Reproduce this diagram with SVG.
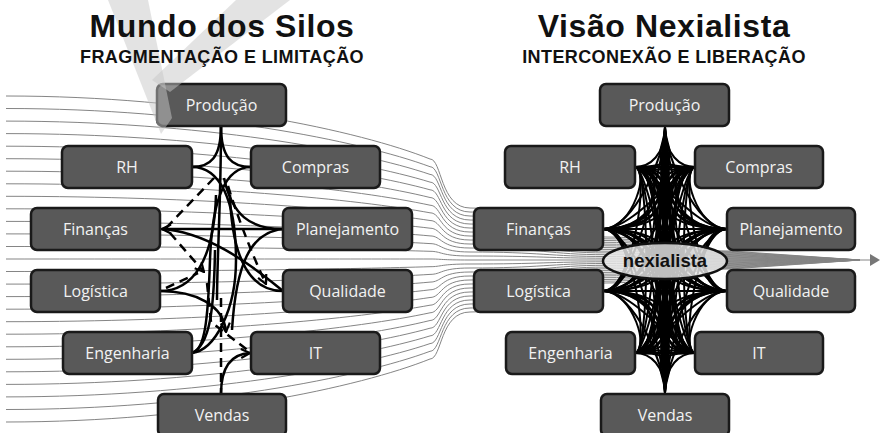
<svg xmlns="http://www.w3.org/2000/svg" width="881" height="433" viewBox="0 0 881 433">
<defs>
<style>
.bl path{fill:none;stroke:#858585;stroke-width:1}
.mesh path{fill:none;stroke:#000;stroke-width:2}
.lc path{fill:none;stroke:#000;stroke-width:2.5}
.lc path.d{stroke-dasharray:9 6}
.node rect{fill:#595959;stroke:#1a1a1a;stroke-width:2.5}
.node text{font-family:"Open Sans","Noto Sans",sans-serif;font-size:16px;fill:#f2f2f2;text-anchor:middle}
.title{font-family:"Liberation Sans",Arial,sans-serif;font-weight:bold;fill:#111;text-anchor:middle}
</style>
<marker id="ah" markerUnits="userSpaceOnUse" markerWidth="12" markerHeight="12" viewBox="0 0 12 12" refX="11" refY="6" orient="auto"><path d="M2,1.5 L11,6 L2,10.5" fill="none" stroke="#000" stroke-width="2.2"/></marker>
</defs>
<rect width="881" height="433" fill="#fff"/>
<g id="flow-lines" class="bl">
<path d="M6,96C200,96 360,131 430,159C442,159 440,208 470,208C540,208 550,237 605,237C670,237 680,251 730,251L860,260"/>
<path d="M6,108.5C200,108.5 360,140.8 430,166.7C442,166.7 440,212 470,212C540,212 550,238.8 605,238.8C670,238.8 680,251.7 730,251.7L860,260"/>
<path d="M6,121.1C200,121.1 360,150.7 430,174.4C442,174.4 440,216 470,216C540,216 550,240.5 605,240.5C670,240.5 680,252.4 730,252.4L860,260"/>
<path d="M6,133.6C200,133.6 360,160.5 430,182.1C442,182.1 440,220 470,220C540,220 550,242.3 605,242.3C670,242.3 680,253.1 730,253.1L860,260"/>
<path d="M6,146.2C200,146.2 360,170.4 430,189.8C442,189.8 440,224 470,224C540,224 550,244.1 605,244.1C670,244.1 680,253.8 730,253.8L860,260"/>
<path d="M6,158.7C200,158.7 360,180.2 430,197.5C442,197.5 440,228 470,228C540,228 550,245.8 605,245.8C670,245.8 680,254.5 730,254.5L860,260"/>
<path d="M6,171.2C200,171.2 360,190.1 430,205.2C442,205.2 440,232 470,232C540,232 550,247.6 605,247.6C670,247.6 680,255.2 730,255.2L860,260"/>
<path d="M6,183.8C200,183.8 360,199.9 430,212.8C442,212.8 440,236 470,236C540,236 550,249.4 605,249.4C670,249.4 680,255.8 730,255.8L860,260"/>
<path d="M6,196.3C200,196.3 360,209.8 430,220.5C442,220.5 440,240 470,240C540,240 550,251.2 605,251.2C670,251.2 680,256.5 730,256.5L860,260"/>
<path d="M6,208.8C200,208.8 360,219.6 430,228.2C442,228.2 440,244 470,244C540,244 550,252.9 605,252.9C670,252.9 680,257.2 730,257.2L860,260"/>
<path d="M6,221.4C200,221.4 360,229.5 430,235.9C442,235.9 440,248 470,248C540,248 550,254.7 605,254.7C670,254.7 680,257.9 730,257.9L860,260"/>
<path d="M6,233.9C200,233.9 360,239.3 430,243.6C442,243.6 440,252 470,252C540,252 550,256.5 605,256.5C670,256.5 680,258.6 730,258.6L860,260"/>
<path d="M6,246.5C200,246.5 360,249.2 430,251.3C442,251.3 440,256 470,256C540,256 550,258.2 605,258.2C670,258.2 680,259.3 730,259.3L860,260"/>
<path d="M6,259C200,259 360,259 430,259C442,259 440,260 470,260L871,260" stroke="#777" stroke-width="1.5"/>
<path d="M6,271.5C200,271.5 360,268.8 430,266.7C442,266.7 440,264 470,264C540,264 550,261.8 605,261.8C670,261.8 680,260.7 730,260.7L860,260"/>
<path d="M6,284.1C200,284.1 360,278.7 430,274.4C442,274.4 440,268 470,268C540,268 550,263.5 605,263.5C670,263.5 680,261.4 730,261.4L860,260"/>
<path d="M6,296.6C200,296.6 360,288.5 430,282.1C442,282.1 440,272 470,272C540,272 550,265.3 605,265.3C670,265.3 680,262.1 730,262.1L860,260"/>
<path d="M6,309.2C200,309.2 360,298.4 430,289.8C442,289.8 440,276 470,276C540,276 550,267.1 605,267.1C670,267.1 680,262.8 730,262.8L860,260"/>
<path d="M6,321.7C200,321.7 360,308.2 430,297.5C442,297.5 440,280 470,280C540,280 550,268.8 605,268.8C670,268.8 680,263.5 730,263.5L860,260"/>
<path d="M6,334.2C200,334.2 360,318.1 430,305.2C442,305.2 440,284 470,284C540,284 550,270.6 605,270.6C670,270.6 680,264.2 730,264.2L860,260"/>
<path d="M6,346.8C200,346.8 360,327.9 430,312.8C442,312.8 440,288 470,288C540,288 550,272.4 605,272.4C670,272.4 680,264.8 730,264.8L860,260"/>
<path d="M6,359.3C200,359.3 360,337.8 430,320.5C442,320.5 440,292 470,292C540,292 550,274.2 605,274.2C670,274.2 680,265.5 730,265.5L860,260"/>
<path d="M6,371.8C200,371.8 360,347.6 430,328.2C442,328.2 440,296 470,296C540,296 550,275.9 605,275.9C670,275.9 680,266.2 730,266.2L860,260"/>
<path d="M6,384.4C200,384.4 360,357.5 430,335.9C442,335.9 440,300 470,300C540,300 550,277.7 605,277.7C670,277.7 680,266.9 730,266.9L860,260"/>
<path d="M6,396.9C200,396.9 360,367.3 430,343.6C442,343.6 440,304 470,304C540,304 550,279.5 605,279.5C670,279.5 680,267.6 730,267.6L860,260"/>
<path d="M6,409.5C200,409.5 360,377.2 430,351.3C442,351.3 440,308 470,308C540,308 550,281.2 605,281.2C670,281.2 680,268.3 730,268.3L860,260"/>
<path d="M6,422C200,422 360,387 430,359C442,359 440,312 470,312C540,312 550,283 605,283C670,283 680,269 730,269L860,260"/>
</g>
<polygon id="arrowhead" points="870,254 880,260 870,266" fill="#777"/>
<g id="connectors-right" class="mesh">
<path d="M665,127C665,185 665,335 665,393"/>
<path d="M665,127C665,185 665,167 635,167"/>
<path d="M665,127C665,185 665,167 695,167"/>
<path d="M665,127C665,185 665,229 603,229"/>
<path d="M665,127C665,185 665,229 727,229"/>
<path d="M665,127C665,185 665,291 603,291"/>
<path d="M665,127C665,185 665,291 727,291"/>
<path d="M665,127C665,185 665,353 635,353"/>
<path d="M665,127C665,185 665,353 695,353"/>
<path d="M665,393C665,335 665,167 635,167"/>
<path d="M665,393C665,335 665,167 695,167"/>
<path d="M665,393C665,335 665,229 603,229"/>
<path d="M665,393C665,335 665,229 727,229"/>
<path d="M665,393C665,335 665,291 603,291"/>
<path d="M665,393C665,335 665,291 727,291"/>
<path d="M665,393C665,335 665,353 635,353"/>
<path d="M665,393C665,335 665,353 695,353"/>
<path d="M635,167C665,167 665,167 695,167"/>
<path d="M635,167C665,167 665,229 603,229"/>
<path d="M635,167C665,167 665,229 727,229"/>
<path d="M635,167C665,167 665,291 603,291"/>
<path d="M635,167C665,167 665,291 727,291"/>
<path d="M635,167C665,167 665,353 635,353"/>
<path d="M635,167C665,167 665,353 695,353"/>
<path d="M695,167C665,167 665,229 603,229"/>
<path d="M695,167C665,167 665,229 727,229"/>
<path d="M695,167C665,167 665,291 603,291"/>
<path d="M695,167C665,167 665,291 727,291"/>
<path d="M695,167C665,167 665,353 635,353"/>
<path d="M695,167C665,167 665,353 695,353"/>
<path d="M603,229C665,229 665,229 727,229"/>
<path d="M603,229C665,229 665,291 603,291"/>
<path d="M603,229C665,229 665,291 727,291"/>
<path d="M603,229C665,229 665,353 635,353"/>
<path d="M603,229C665,229 665,353 695,353"/>
<path d="M727,229C665,229 665,291 603,291"/>
<path d="M727,229C665,229 665,291 727,291"/>
<path d="M727,229C665,229 665,353 635,353"/>
<path d="M727,229C665,229 665,353 695,353"/>
<path d="M603,291C665,291 665,291 727,291"/>
<path d="M603,291C665,291 665,353 635,353"/>
<path d="M603,291C665,291 665,353 695,353"/>
<path d="M727,291C665,291 665,353 635,353"/>
<path d="M727,291C665,291 665,353 695,353"/>
<path d="M635,353C665,353 665,353 695,353"/>
<path d="M665,127C665,150 688,167 635,167"/>
<path d="M665,127C665,150 642,167 695,167"/>
<path d="M665,127C665,150 692,229 603,229"/>
<path d="M665,127C665,150 638,229 727,229"/>
<path d="M665,127C665,150 692,291 603,291"/>
<path d="M665,127C665,150 638,291 727,291"/>
<path d="M665,127C665,150 688,353 635,353"/>
<path d="M665,127C665,150 642,353 695,353"/>
<path d="M665,393C665,370 688,167 635,167"/>
<path d="M665,393C665,370 642,167 695,167"/>
<path d="M665,393C665,370 692,229 603,229"/>
<path d="M665,393C665,370 638,229 727,229"/>
<path d="M665,393C665,370 692,291 603,291"/>
<path d="M665,393C665,370 638,291 727,291"/>
<path d="M665,393C665,370 688,353 635,353"/>
<path d="M665,393C665,370 642,353 695,353"/>
<path d="M635,167C688,167 692,229 603,229"/>
<path d="M635,167C688,167 638,229 727,229"/>
<path d="M635,167C688,167 692,291 603,291"/>
<path d="M635,167C688,167 638,291 727,291"/>
<path d="M635,167C688,167 688,353 635,353"/>
<path d="M635,167C688,167 642,353 695,353"/>
<path d="M695,167C642,167 692,229 603,229"/>
<path d="M695,167C642,167 638,229 727,229"/>
<path d="M695,167C642,167 692,291 603,291"/>
<path d="M695,167C642,167 638,291 727,291"/>
<path d="M695,167C642,167 688,353 635,353"/>
<path d="M695,167C642,167 642,353 695,353"/>
<path d="M603,229C692,229 692,291 603,291"/>
<path d="M603,229C692,229 638,291 727,291"/>
<path d="M603,229C692,229 688,353 635,353"/>
<path d="M603,229C692,229 642,353 695,353"/>
<path d="M727,229C638,229 692,291 603,291"/>
<path d="M727,229C638,229 638,291 727,291"/>
<path d="M727,229C638,229 688,353 635,353"/>
<path d="M727,229C638,229 642,353 695,353"/>
<path d="M603,291C692,291 688,353 635,353"/>
<path d="M603,291C692,291 642,353 695,353"/>
<path d="M727,291C638,291 688,353 635,353"/>
<path d="M727,291C638,291 642,353 695,353"/>
<path d="M665,127C665,155 650,167 635,167"/>
<path d="M665,127C665,155 680,167 695,167"/>
<path d="M665,127C665,155 634,229 603,229"/>
<path d="M665,127C665,155 696,229 727,229"/>
<path d="M665,127C665,155 634,291 603,291"/>
<path d="M665,127C665,155 696,291 727,291"/>
<path d="M665,127C665,155 650,353 635,353"/>
<path d="M665,127C665,155 680,353 695,353"/>
<path d="M665,393C665,365 650,167 635,167"/>
<path d="M665,393C665,365 680,167 695,167"/>
<path d="M665,393C665,365 634,229 603,229"/>
<path d="M665,393C665,365 696,229 727,229"/>
<path d="M665,393C665,365 634,291 603,291"/>
<path d="M665,393C665,365 696,291 727,291"/>
<path d="M665,393C665,365 650,353 635,353"/>
<path d="M665,393C665,365 680,353 695,353"/>
<path d="M635,167C650,167 634,229 603,229"/>
<path d="M635,167C650,167 696,229 727,229"/>
<path d="M635,167C650,167 634,291 603,291"/>
<path d="M635,167C650,167 696,291 727,291"/>
<path d="M635,167C650,167 650,353 635,353"/>
<path d="M635,167C650,167 680,353 695,353"/>
<path d="M695,167C680,167 634,229 603,229"/>
<path d="M695,167C680,167 696,229 727,229"/>
<path d="M695,167C680,167 634,291 603,291"/>
<path d="M695,167C680,167 696,291 727,291"/>
<path d="M695,167C680,167 650,353 635,353"/>
<path d="M695,167C680,167 680,353 695,353"/>
<path d="M603,229C634,229 634,291 603,291"/>
<path d="M603,229C634,229 696,291 727,291"/>
<path d="M603,229C634,229 650,353 635,353"/>
<path d="M603,229C634,229 680,353 695,353"/>
<path d="M727,229C696,229 634,291 603,291"/>
<path d="M727,229C696,229 696,291 727,291"/>
<path d="M727,229C696,229 650,353 635,353"/>
<path d="M727,229C696,229 680,353 695,353"/>
<path d="M603,291C634,291 650,353 635,353"/>
<path d="M603,291C634,291 680,353 695,353"/>
<path d="M727,291C696,291 650,353 635,353"/>
<path d="M727,291C696,291 680,353 695,353"/>
</g>
<g id="connectors-left" class="lc">
<path d="M221,126C221,158 210,167 192,167"/>
<path d="M221,126C221,158 232,167 251,167"/>
<path d="M221,126C221,200 217,260 217,300"/>
<path d="M192,167C220,167 236,200 236,260C236,310 215,350 192,353"/>
<path d="M251,167C225,167 212,200 210,260C208,320 205,350 192,353"/>
<path d="M160,291C192,291 214,262 216,195"/>
<path d="M160,291C195,291 224,305 226,332" marker-end="url(#ah)"/>
<path d="M283,291C252,291 232,262 230,195"/>
<path d="M283,229C250,229 232,215 224,178"/>
<path d="M283,229C250,232 236,265 232,330"/>
<path d="M160,229C205,231 248,262 283,291"/>
<path d="M283,229L162,229" marker-end="url(#ah)"/>
<path d="M221,394C221,368 230,354 250,353" marker-end="url(#ah)"/>
<path d="M192,353C210,345 214,310 215,250"/>
<path class="d" d="M221,298L221,394"/>
<path class="d" d="M214,178L166,228"/>
<path class="d" d="M170,233L204,272" marker-end="url(#ah)"/>
<path class="d" d="M207,283L211,322L250,352"/>
<path class="d" d="M166,288L198,273"/>
<path class="d" d="M228,186C236,212 250,250 266,284" marker-end="url(#ah)"/>
</g>
<g id="nexialista">
<ellipse cx="665" cy="261" rx="62" ry="18" fill="#e9e9e9" fill-opacity="0.82" stroke="#111" stroke-width="2.5"/>
<text x="665" y="267" font-family="Liberation Sans, Arial, sans-serif" font-weight="bold" font-size="18.5" fill="#111" text-anchor="middle">nexialista</text>
</g>
<g id="n-producao-l" class="node"><rect x="157" y="84" width="129" height="42" rx="6"/><text x="221.5" y="111">Produção</text></g>
<g id="n-rh-l" class="node"><rect x="62" y="146" width="130" height="42" rx="6"/><text x="127" y="173">RH</text></g>
<g id="n-compras-l" class="node"><rect x="251" y="146" width="129" height="42" rx="6"/><text x="315.5" y="173">Compras</text></g>
<g id="n-financas-l" class="node"><rect x="31" y="208" width="129" height="42" rx="6"/><text x="95.5" y="235">Finanças</text></g>
<g id="n-planejamento-l" class="node"><rect x="283" y="208" width="129" height="42" rx="6"/><text x="347.5" y="235">Planejamento</text></g>
<g id="n-logistica-l" class="node"><rect x="31" y="270" width="129" height="42" rx="6"/><text x="95.5" y="297">Logística</text></g>
<g id="n-qualidade-l" class="node"><rect x="283" y="270" width="129" height="42" rx="6"/><text x="347.5" y="297">Qualidade</text></g>
<g id="n-engenharia-l" class="node"><rect x="63" y="332" width="129" height="42" rx="6"/><text x="127.5" y="359">Engenharia</text></g>
<g id="n-it-l" class="node"><rect x="251" y="332" width="129" height="42" rx="6"/><text x="315.5" y="359">IT</text></g>
<g id="n-vendas-l" class="node"><rect x="158" y="394" width="128" height="42" rx="6"/><text x="222" y="421">Vendas</text></g>
<g id="n-producao-r" class="node"><rect x="600" y="84" width="129" height="42" rx="6"/><text x="664.5" y="111">Produção</text></g>
<g id="n-rh-r" class="node"><rect x="505" y="146" width="130" height="42" rx="6"/><text x="570" y="173">RH</text></g>
<g id="n-compras-r" class="node"><rect x="695" y="146" width="128" height="42" rx="6"/><text x="759" y="173">Compras</text></g>
<g id="n-financas-r" class="node"><rect x="474" y="208" width="129" height="42" rx="6"/><text x="538.5" y="235">Finanças</text></g>
<g id="n-planejamento-r" class="node"><rect x="727" y="208" width="128" height="42" rx="6"/><text x="791" y="235">Planejamento</text></g>
<g id="n-logistica-r" class="node"><rect x="474" y="270" width="129" height="42" rx="6"/><text x="538.5" y="297">Logística</text></g>
<g id="n-qualidade-r" class="node"><rect x="727" y="270" width="128" height="42" rx="6"/><text x="791" y="297">Qualidade</text></g>
<g id="n-engenharia-r" class="node"><rect x="506" y="332" width="129" height="42" rx="6"/><text x="570.5" y="359">Engenharia</text></g>
<g id="n-it-r" class="node"><rect x="695" y="332" width="128" height="42" rx="6"/><text x="759" y="359">IT</text></g>
<g id="n-vendas-r" class="node"><rect x="601" y="394" width="128" height="42" rx="6"/><text x="665" y="421">Vendas</text></g>
<g id="watermark" fill="#c8c8c8" fill-opacity="0.5">
<polygon points="108,0 148,0 172,118 161,134"/>
<polygon points="236,0 290,0 170,92 152,80"/>
</g>
<text class="title" x="222" y="37" font-size="32" letter-spacing="0.6">Mundo dos Silos</text>
<text class="title" x="222" y="63" font-size="18" letter-spacing="0.4">FRAGMENTAÇÃO E LIMITAÇÃO</text>
<text class="title" x="664" y="37" font-size="32" letter-spacing="0.6">Visão Nexialista</text>
<text class="title" x="664" y="63" font-size="18" letter-spacing="0.4">INTERCONEXÃO E LIBERAÇÃO</text>
</svg>
